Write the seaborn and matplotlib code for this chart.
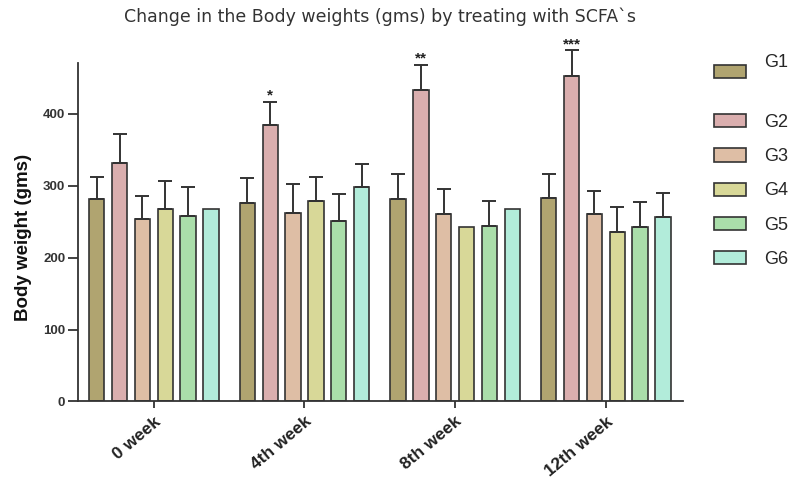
import matplotlib
matplotlib.use("Agg")
import matplotlib.pyplot as plt
import seaborn as sns
import pandas as pd
import numpy as np
from matplotlib.patches import Patch

weeks = ["0 week", "4th week", "8th week", "12th week"]
groups = ["G1", "G2", "G3", "G4", "G5", "G6"]
colors = ["#b0a470", "#daaeae", "#debea5", "#d8d898", "#aadeaa", "#b2ecda"]

# mean body weight per group, one value per week
g1 = [281, 276, 281, 283]
g2 = [331, 385, 433, 453]
g3 = [253, 262, 260, 260]
g4 = [267, 279, 242, 235]
g5 = [258, 251, 244, 242]
g6 = [267, 298, 267, 256]
# upper error (SD) per group, one value per week
e1 = [31, 34, 35, 33]
e2 = [41, 32, 35, 35]
e3 = [33, 40, 36, 33]
e4 = [40, 33, 0, 35]
e5 = [40, 37, 35, 35]
e6 = [0, 32, 0, 34]
stars = ["", "*", "**", "***"]  # significance marks above G2

means = [g1, g2, g3, g4, g5, g6]
errs = [e1, e2, e3, e4, e5, e6]

rows = []
for g, vals in zip(groups, means):
    for w, v in zip(weeks, vals):
        rows.append({"week": w, "group": g, "weight": v})
df = pd.DataFrame(rows)

sns.set_style("white")
plt.rcParams["font.family"] = ["Liberation Sans", "DejaVu Sans"]

fig = plt.figure(figsize=(7.98, 4.84), dpi=100)
ax = fig.add_axes([0.0974, 0.1705, 0.7581, 0.70])

edge = "#333333"
sns.barplot(data=df, x="week", y="weight", hue="group", order=weeks,
            hue_order=groups, palette=colors, errorbar=None, width=0.909,
            gap=0.33, edgecolor=edge, linewidth=1.2, saturation=1,
            legend=False, ax=ax)

bar_conts = list(ax.containers)
for gi, cont in enumerate(bar_conts):
    for wi, bar in enumerate(cont):
        e = errs[gi][wi]
        if e <= 0:
            continue
        x = bar.get_x() + bar.get_width() / 2
        top = bar.get_height()
        ax.errorbar([x], [top], yerr=[[0], [e]], fmt="none", ecolor=edge,
                    elinewidth=1.4, capsize=5, capthick=1.4, clip_on=False,
                    zorder=3)

g2_cont = bar_conts[1]
for wi, s in enumerate(stars):
    if not s:
        continue
    bar = g2_cont[wi]
    x = bar.get_x() + bar.get_width() / 2
    ytop = bar.get_height() + errs[1][wi]
    ax.annotate(s, (x, ytop), xytext=(0, -0.5), textcoords="offset points",
                ha="center", va="bottom", fontsize=11, fontweight="bold",
                color="#222222", annotation_clip=False)

ax.set_xlim(-0.505, 3.51)
ax.set_ylim(0, 471)
ax.set_yticks([0, 100, 200, 300, 400])
for side in ["top", "right"]:
    ax.spines[side].set_visible(False)
for side in ["left", "bottom"]:
    ax.spines[side].set_color(edge)
    ax.spines[side].set_linewidth(1.3)

ax.tick_params(axis="y", direction="out", length=7, width=1.3, color=edge,
               labelsize=9.5, labelcolor="#333333", pad=2, left=True)
ax.tick_params(axis="x", direction="out", length=5, width=1.3, color=edge,
               labelsize=12.5, labelcolor="#222222", pad=4, bottom=True)
for lab in ax.get_yticklabels():
    lab.set_fontweight("bold")
for lab in ax.get_xticklabels():
    lab.set_fontweight("bold")
    lab.set_rotation(40)
    lab.set_ha("right")
    lab.set_rotation_mode("anchor")

ax.set_xlabel("")
ax.set_ylabel("Body weight (gms)", fontsize=13.5, fontweight="bold",
              color="#111111")
ax.yaxis.set_label_coords(-0.076, 0.483)
ax.set_title("Change in the Body weights (gms) by treating with SCFA`s",
             fontsize=12.5, color="#333333", pad=29, family=["DejaVu Sans"])

handles = [Patch(facecolor=c, edgecolor=edge, linewidth=1.2) for c in colors]
leg_kw = dict(loc="upper left", frameon=False, fontsize=13,
              handlelength=1.75, handleheight=0.75, handletextpad=1.0,
              labelspacing=0.95)
leg_a = ax.legend(handles[:1], [groups[0] + "\n"],
                  bbox_to_anchor=(1.025, 1.075), **leg_kw)
leg_a.get_texts()[0].set_linespacing(1.15)
ax.add_artist(leg_a)
leg_b = ax.legend(handles[1:], groups[1:],
                  bbox_to_anchor=(1.025, 0.896), **leg_kw)

fig.savefig("out.png", dpi=100)
